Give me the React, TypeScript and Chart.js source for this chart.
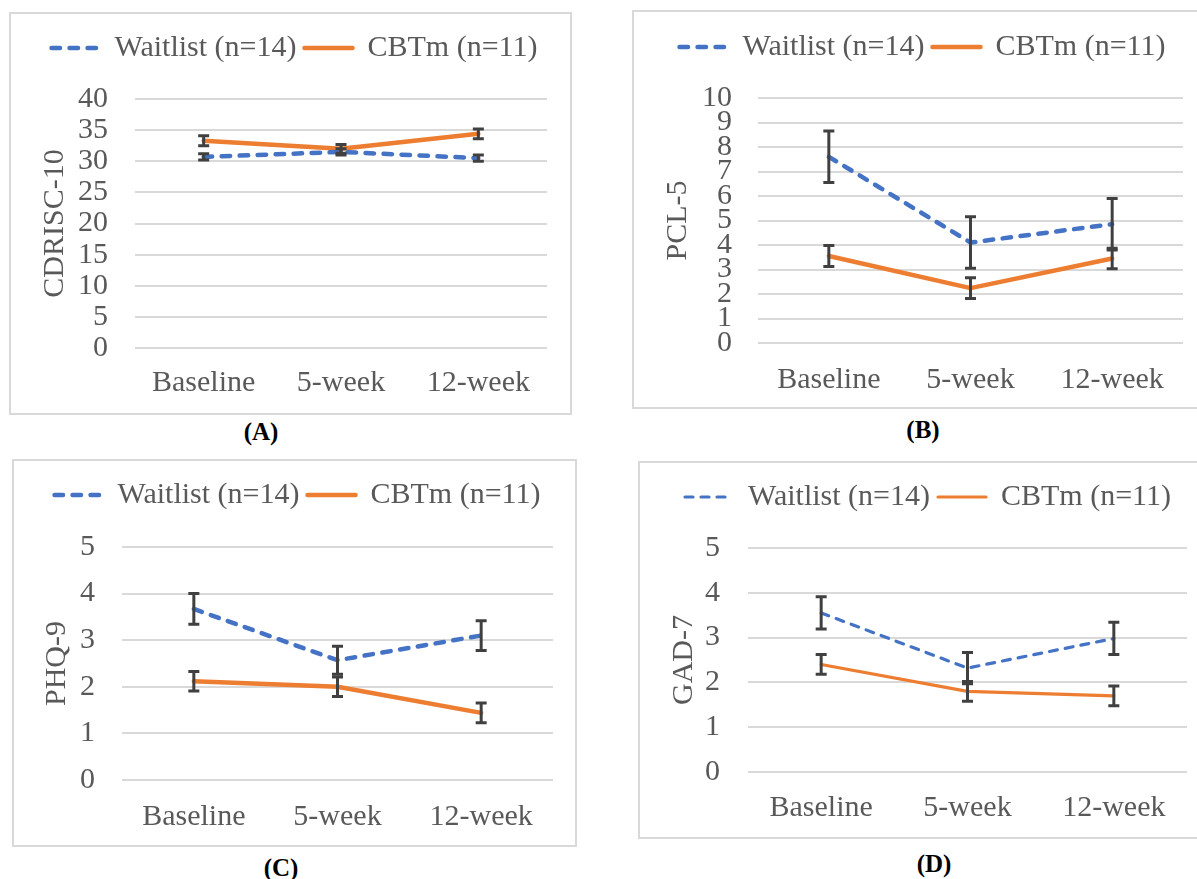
import React, { useEffect, useRef } from 'react';
import { Chart, registerables } from 'chart.js';

Chart.register(...registerables);

// ---------- data ----------
const categories = ['Baseline', '5-week', '12-week'];
const seriesNames = ['Waitlist (n=14)', 'CBTm (n=11)'];

// (A) CDRISC-10
const cdriscWaitlist = [30.7, 31.5, 30.5];
const cdriscWaitlistErr = [0.5, 0.5, 0.5];
const cdriscCbtm = [33.3, 32.0, 34.4];
const cdriscCbtmErr = [0.8, 0.7, 0.8];
const cdriscAxis = [0, 40, 5]; // min, max, step

// (B) PCL-5
const pclWaitlist = [7.6, 4.1, 4.85];
const pclWaitlistErr = [1.05, 1.05, 1.05];
const pclCbtm = [3.55, 2.24, 3.45];
const pclCbtmErr = [0.43, 0.42, 0.42];
const pclAxis = [0, 10, 1];

// (C) PHQ-9
const phqWaitlist = [3.67, 2.57, 3.1];
const phqWaitlistErr = [0.33, 0.3, 0.32];
const phqCbtm = [2.12, 2.0, 1.44];
const phqCbtmErr = [0.21, 0.21, 0.21];
const phqAxis = [0, 5, 1];

// (D) GAD-7
const gadWaitlist = [3.55, 2.32, 2.98];
const gadWaitlistErr = [0.36, 0.35, 0.36];
const gadCbtm = [2.4, 1.8, 1.7];
const gadCbtmErr = [0.22, 0.22, 0.22];
const gadAxis = [0, 5, 1];

const axisTitles = ['CDRISC-10', 'PCL-5', 'PHQ-9', 'GAD-7'];
const captions = ['(A)', '(B)', '(C)', '(D)'];

// ---------- styling ----------
const FONT = '"Liberation Serif", "Times New Roman", serif';
const TEXT = '#595959';
const BLUE = '#4472C4';
const ORANGE = '#ED7D31';
const GRID = '#d9d9d9';
const ERR = '#404040';

const borderPlugin = {
  id: 'panelBorder',
  beforeDraw(chart: any) {
    const { ctx, width, height } = chart;
    ctx.save();
    ctx.strokeStyle = GRID;
    ctx.lineWidth = 2;
    ctx.strokeRect(1, 1, width - 2, height - 2);
    ctx.restore();
  },
};

const errorBarPlugin = {
  id: 'errorBars',
  afterDatasetsDraw(chart: any) {
    const { ctx } = chart;
    const yScale = chart.scales.y;
    ctx.save();
    ctx.strokeStyle = ERR;
    ctx.lineWidth = 3;
    ctx.lineCap = 'butt';
    ctx.setLineDash([]);
    chart.data.datasets.forEach((ds: any, i: number) => {
      if (!ds.errors) return;
      const meta = chart.getDatasetMeta(i);
      meta.data.forEach((pt: any, j: number) => {
        const v = ds.data[j];
        const e = ds.errors[j];
        const yt = yScale.getPixelForValue(v + e);
        const yb = yScale.getPixelForValue(v - e);
        const x = pt.x;
        const cap = 5.5;
        ctx.beginPath();
        ctx.moveTo(x, yt);
        ctx.lineTo(x, yb);
        ctx.moveTo(x - cap, yt);
        ctx.lineTo(x + cap, yt);
        ctx.moveTo(x - cap, yb);
        ctx.lineTo(x + cap, yb);
        ctx.stroke();
      });
    });
    ctx.restore();
  },
};

type PanelCfg = {
  left: number; top: number; w: number; h: number;
  waitlist: number[]; waitlistErr: number[]; cbtm: number[]; cbtmErr: number[];
  axis: number[]; yTitle: string;
  lw: number; dash: number[];
  pl: number; pt: number; spacer: number;
  yW: number; yTickPad: number; yTitlePad: number;
  xH: number; xPad: number; padR: number;
};

const panels: PanelCfg[] = [
  {
    left: 9, top: 12, w: 563, h: 403,
    waitlist: cdriscWaitlist, waitlistErr: cdriscWaitlistErr, cbtm: cdriscCbtm, cbtmErr: cdriscCbtmErr,
    axis: cdriscAxis, yTitle: axisTitles[0], lw: 4.5, dash: [8.5, 9.5],
    pl: 8, pt: 13, spacer: 26, yW: 118, yTickPad: 27, yTitlePad: 20, xH: 67, xPad: 17, padR: 25,
  },
  {
    left: 632, top: 10, w: 574, h: 399,
    waitlist: pclWaitlist, waitlistErr: pclWaitlistErr, cbtm: pclCbtm, cbtmErr: pclCbtmErr,
    axis: pclAxis, yTitle: axisTitles[1], lw: 4.5, dash: [8.5, 9.5],
    pl: 7, pt: 14, spacer: 26, yW: 119, yTickPad: 26, yTitlePad: 21, xH: 66, xPad: 19, padR: 23,
  },
  {
    left: 12, top: 459, w: 565, h: 388,
    waitlist: phqWaitlist, waitlistErr: phqWaitlistErr, cbtm: phqCbtm, cbtmErr: phqCbtmErr,
    axis: phqAxis, yTitle: axisTitles[2], lw: 4.5, dash: [8.5, 9.5],
    pl: 6, pt: 13, spacer: 27, yW: 104, yTickPad: 27, yTitlePad: 21, xH: 67, xPad: 19, padR: 24,
  },
  {
    left: 638, top: 461, w: 573, h: 378,
    waitlist: gadWaitlist, waitlistErr: gadWaitlistErr, cbtm: gadCbtm, cbtmErr: gadCbtmErr,
    axis: gadAxis, yTitle: axisTitles[3], lw: 3.2, dash: [8, 8],
    pl: 7, pt: 13, spacer: 26, yW: 103, yTickPad: 28, yTitlePad: 21, xH: 67, xPad: 18, padR: 24,
  },
];

const captionPos = [
  [261, 432],
  [923, 430],
  [281, 868],
  [934, 864],
];

function Panel({ cfg }: { cfg: PanelCfg }) {
  const ref = useRef<HTMLCanvasElement>(null);
  useEffect(() => {
    const font30 = { family: FONT, size: 30, lineHeight: 1.2 };
    const chart = new Chart(ref.current as HTMLCanvasElement, {
      type: 'line',
      data: {
        labels: categories,
        datasets: [
          {
            label: seriesNames[0],
            data: cfg.waitlist,
            errors: cfg.waitlistErr,
            borderColor: BLUE,
            backgroundColor: BLUE,
            borderWidth: cfg.lw,
            borderDash: cfg.dash,
            borderCapStyle: 'round',
            borderJoinStyle: 'round',
            pointRadius: 0,
            pointHoverRadius: 0,
            tension: 0,
            fill: false,
          } as any,
          {
            label: seriesNames[1],
            data: cfg.cbtm,
            errors: cfg.cbtmErr,
            borderColor: ORANGE,
            backgroundColor: ORANGE,
            borderWidth: cfg.lw,
            borderDash: [],
            borderCapStyle: 'round',
            borderJoinStyle: 'round',
            pointRadius: 0,
            pointHoverRadius: 0,
            tension: 0,
            fill: false,
          } as any,
        ],
      },
      options: {
        animation: false,
        responsive: false,
        events: [],
        layout: { padding: { left: cfg.pl, right: 0, top: cfg.pt, bottom: 0 } },
        plugins: {
          legend: {
            position: 'top',
            labels: {
              usePointStyle: true,
              pointStyle: 'line',
              pointStyleWidth: 48,
              padding: 8,
              color: TEXT,
              font: { family: FONT, size: 30 },
              generateLabels: (chart: any) =>
                chart.data.datasets.map((ds: any, i: number) => ({
                  text: ds.label,
                  fillStyle: ds.borderColor,
                  strokeStyle: ds.borderColor,
                  lineWidth: ds.borderWidth,
                  lineDash: ds.borderDash || [],
                  lineCap: 'round',
                  pointStyle: 'line',
                  fontColor: TEXT,
                  hidden: false,
                  datasetIndex: i,
                })),
            },
          },
          title: {
            display: true,
            text: '',
            weight: 0,
            padding: { top: cfg.spacer - 1, bottom: 0 },
            font: { size: 1, lineHeight: 1 },
          } as any,
          tooltip: { enabled: false },
        },
        scales: {
          x: {
            offset: true,
            grid: { display: false, drawTicks: false },
            border: { display: false },
            ticks: {
              color: TEXT,
              font: font30,
              padding: cfg.xPad,
              maxRotation: 0,
              autoSkip: false,
            },
            afterFit: (s: any) => {
              s.height = cfg.xH;
              s.paddingRight = cfg.padR;
              s.paddingLeft = 0;
            },
          },
          y: {
            min: cfg.axis[0],
            max: cfg.axis[1],
            grid: { color: GRID, lineWidth: 2, drawTicks: false },
            border: { display: false },
            ticks: {
              stepSize: cfg.axis[2],
              autoSkip: false,
              padding: cfg.yTickPad,
              color: TEXT,
              font: font30,
            },
            title: {
              display: true,
              text: cfg.yTitle,
              color: TEXT,
              font: font30,
              padding: { top: cfg.yTitlePad, bottom: 0 },
            },
            afterFit: (s: any) => {
              s.width = cfg.yW;
            },
          },
        },
      } as any,
      plugins: [borderPlugin, errorBarPlugin],
    });
    return () => chart.destroy();
  }, [cfg]);

  return (
    <canvas
      ref={ref}
      width={cfg.w}
      height={cfg.h}
      style={{ position: 'absolute', left: cfg.left, top: cfg.top, display: 'block' }}
    />
  );
}

export default function App() {
  return (
    <div
      style={{
        position: 'absolute',
        left: 0,
        top: 0,
        width: 1197,
        height: 879,
        overflow: 'hidden',
        background: '#ffffff',
      }}
    >
      {panels.map((p, i) => (
        <Panel key={i} cfg={p} />
      ))}
      {captions.map((c, i) => (
        <div
          key={c}
          style={{
            position: 'absolute',
            left: captionPos[i][0] - 40,
            top: captionPos[i][1] - 15,
            width: 80,
            height: 30,
            lineHeight: '30px',
            textAlign: 'center',
            fontFamily: FONT,
            fontWeight: 'bold',
            fontSize: 25,
            color: '#000000',
          }}
        >
          {c}
        </div>
      ))}
    </div>
  );
}
